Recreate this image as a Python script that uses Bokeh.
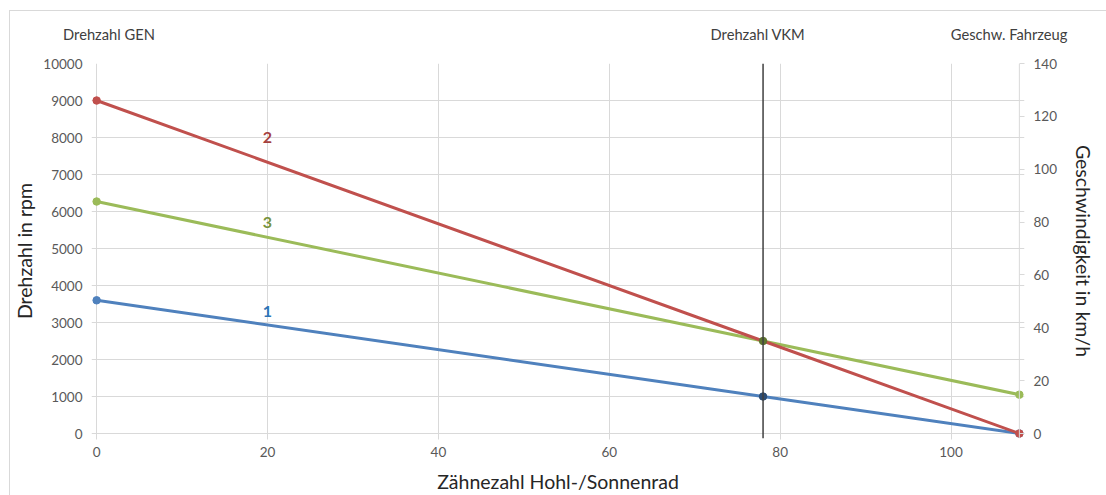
from bokeh.plotting import figure
from bokeh.models import Range1d, LinearAxis, Label, Span, FixedTicker
from bokeh.embed import file_html
from bokeh.resources import INLINE

# data
x_pts = [0, 78, 108]
line1 = [3600, 1000, 0]
line2 = [9000, 2500, 0]
line3 = [6270, 2500, 1050]
series_labels = ["1", "2", "3"]
label_x = [20, 20, 20]
label_y = [3300, 8000, 5700]
vkm_x = 78
x_max = 108
x_ticks = [0, 20, 40, 60, 80, 100]
left_ticks = list(range(0, 10001, 1000))
right_ticks = [0, 20, 40, 60, 80, 100, 120, 140]
header_texts = ["Drehzahl GEN", "Drehzahl VKM", "Geschw. Fahrzeug"]

FONT = "Lato"
TICKC = "#595959"
GRID = "#d9d9d9"

Y_LO = -135
p = figure(width=1106, height=495, output_backend="svg", toolbar_location=None,
           x_range=Range1d(-0.6, 108.6), y_range=Range1d(Y_LO, 10000),
           min_border_left=91, min_border_right=82, min_border_top=63, min_border_bottom=57)
p.outline_line_color = None
p.background_fill_color = "white"
p.border_fill_alpha = 0
p.styles = {
    "background-color": "white",
    "background-image": "linear-gradient(#d9d9d9,#d9d9d9), linear-gradient(#d9d9d9,#d9d9d9)",
    "background-size": "1px calc(100% - 10px), calc(100% - 9px) 1px",
    "background-position": "9px 10px, 9px 10px",
    "background-repeat": "no-repeat",
}

p.extra_y_ranges = {"kmh": Range1d(Y_LO * 140 / 10000, 140)}

for ax in [p.xaxis[0], p.yaxis[0]]:
    ax.major_label_text_font = FONT
    ax.major_label_text_font_size = "13.5px"
    ax.major_label_text_color = TICKC
    ax.axis_line_color = None
    ax.minor_tick_line_color = None
    ax.axis_label_text_font = FONT
    ax.axis_label_text_font_style = "normal"
    ax.axis_label_text_color = "#262626"
    ax.axis_label_text_font_size = "19.5px"

p.xaxis.ticker = FixedTicker(ticks=x_ticks)
p.xaxis.major_tick_line_color = GRID
p.xaxis.major_tick_in = 4
p.xaxis.major_tick_out = 1
p.xaxis.major_label_standoff = 7
p.xaxis.axis_label = "Zähnezahl Hohl-/Sonnenrad"
p.xaxis.axis_label_standoff = 10

p.yaxis.ticker = FixedTicker(ticks=left_ticks)
p.yaxis.major_tick_line_color = None
p.yaxis.major_tick_in = 0
p.yaxis.major_tick_out = 0
p.yaxis.major_label_standoff = 9
p.yaxis.axis_label = "Drehzahl in rpm"
p.yaxis.axis_label_standoff = 4

rax = LinearAxis(y_range_name="kmh", ticker=FixedTicker(ticks=right_ticks))
rax.major_label_text_font = FONT
rax.major_label_text_font_size = "13.5px"
rax.major_label_text_color = TICKC
rax.axis_line_color = None
rax.major_tick_line_color = GRID
rax.major_tick_in = 5
rax.major_tick_out = 0
rax.major_label_standoff = 9
rax.minor_tick_line_color = None
rax.axis_label = "Geschwindigkeit in km/h"
rax.axis_label_text_font = FONT
rax.axis_label_text_font_style = "normal"
rax.axis_label_text_color = "#262626"
rax.axis_label_text_font_size = "19.5px"
rax.axis_label_standoff = 12
p.add_layout(rax, "right")

# header texts as labels of an extra axis above the plot area
hdr_pos = [1.45, 77.4, 106.8]
top_ax = LinearAxis(ticker=FixedTicker(ticks=hdr_pos),
                    major_label_overrides={pos: t for pos, t in zip(hdr_pos, header_texts)})
top_ax.axis_line_color = None
top_ax.major_tick_line_color = None
top_ax.minor_tick_line_color = None
top_ax.major_tick_in = 0
top_ax.major_tick_out = 0
top_ax.major_label_standoff = 21
top_ax.major_label_text_font = FONT
top_ax.major_label_text_font_size = "14.7px"
top_ax.major_label_text_color = "#404040"
p.add_layout(top_ax, "above")

p.xgrid.ticker = FixedTicker(ticks=x_ticks)
p.ygrid.ticker = FixedTicker(ticks=left_ticks)
p.xgrid.grid_line_color = GRID
p.ygrid.grid_line_color = GRID

# right axis line at x_max
p.add_layout(Span(location=x_max, dimension="height", line_color=GRID, line_width=1))
# vertical line
p.add_layout(Span(location=vkm_x, dimension="height", line_color="#404040", line_width=1.5))

colors = {"1": "#4f81bd", "2": "#c0504d", "3": "#9bbb59"}
dark = {"1": "#2c4d75", "3": "#5f7530"}
label_colors = ["#2e75b6", "#a5413e", "#77933c"]
series = {"1": line1, "2": line2, "3": line3}
for k in ["1", "3", "2"]:
    ys = series[k]
    c = colors[k]
    p.line(x_pts, ys, line_color=c, line_width=3)
    p.scatter([x_pts[0], x_pts[2]], [ys[0], ys[2]], size=7.5, fill_color=c, line_color=c)
for k in ["1", "3"]:
    ys = series[k]
    p.scatter([x_pts[1]], [ys[1]], size=7.5, fill_color=dark[k], line_color=dark[k])

for t, lx, ly, lc in zip(series_labels, label_x, label_y, label_colors):
    p.add_layout(Label(x=lx, y=ly, text=t, text_color=lc, text_font=FONT,
                       text_font_style="bold", text_font_size="16px",
                       text_align="center", text_baseline="middle"))

open("out.html", "w").write(file_html(p, INLINE))
